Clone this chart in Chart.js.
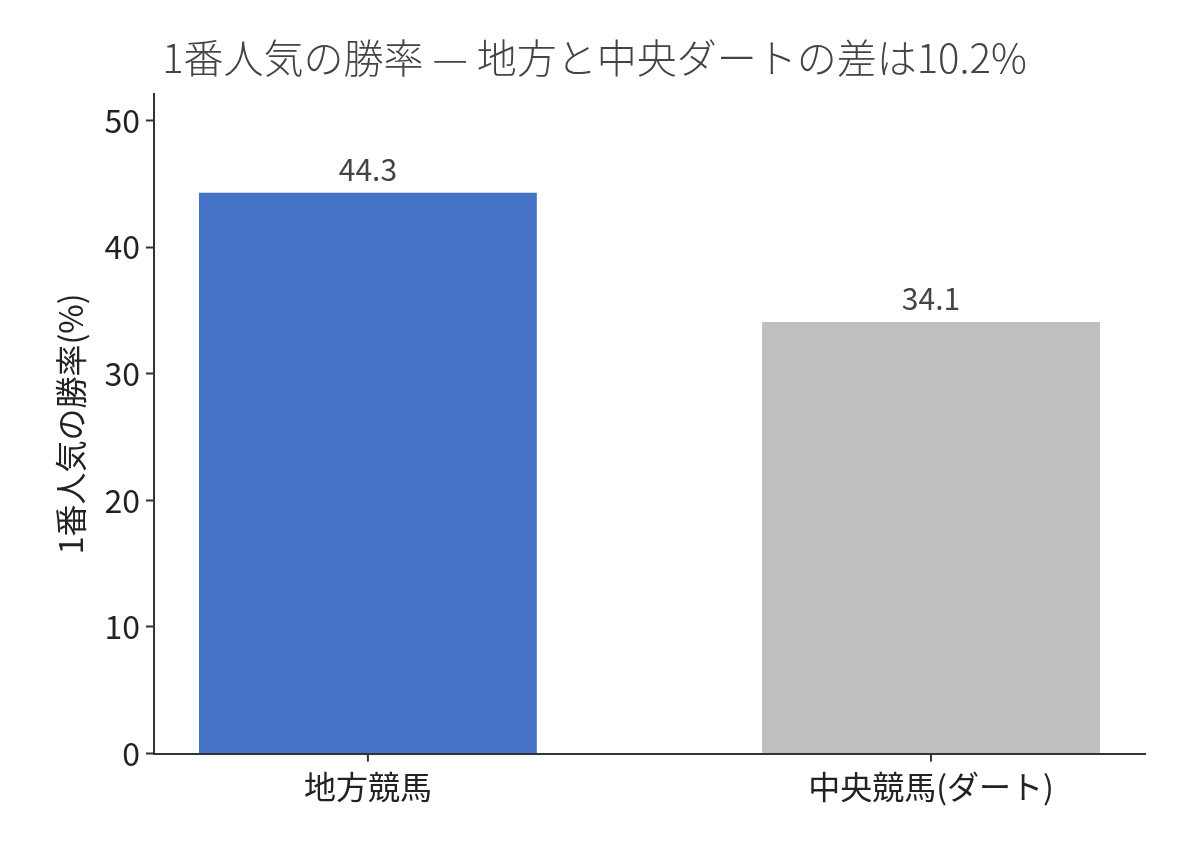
<!DOCTYPE html>
<html><head><meta charset="utf-8">
<script src="https://cdn.jsdelivr.net/npm/chart.js@4"></script>
<style>body{margin:0;background:#fff}#w{width:1188px;height:858px}</style></head>
<body><div id="w"><canvas id="c"></canvas></div>
<script>
const categories = ["地方競馬", "中央競馬(ダート)"];
const values = [44.3, 34.1];
const colors = ["#4472C4", "#BFBFBF"];
const yTicks = [0, 10, 20, 30, 40, 50];
const F = "'Noto Sans CJK JP', sans-serif";
const labelPlugin = {
  id: 'lbl',
  afterDatasetsDraw(ch) {
    const ctx = ch.ctx, meta = ch.getDatasetMeta(0), xs = ch.scales.x, bottom = ch.chartArea.bottom;
    ctx.save(); ctx.font = "30px " + F; ctx.fillStyle = "#444"; ctx.textAlign = "center"; ctx.textBaseline = "bottom";
    meta.data.forEach((b, i) => ctx.fillText(values[i].toFixed(1), b.x, b.y - 8));
    ctx.strokeStyle = "#333"; ctx.lineWidth = 2;
    categories.forEach((c, i) => { const x = xs.getPixelForValue(i); ctx.beginPath(); ctx.moveTo(x, bottom); ctx.lineTo(x, bottom + 8); ctx.stroke(); });
    ctx.restore();
  }
};
new Chart(document.getElementById('c'), {
  type: 'bar',
  data: { datasets: [{ data: values.map((v, i) => ({x: i, y: v})), backgroundColor: colors, barPercentage: 0.6, categoryPercentage: 1 }] },
  options: {
    responsive: true, maintainAspectRatio: false, animation: false,
    layout: { padding: { top: 6, right: 43, bottom: 38, left: 44 } },
    plugins: { legend: { display: false }, tooltip: { enabled: false },
      title: { display: true, text: "1番人気の勝率 — 地方と中央ダートの差は10.2%", color: "#444", font: { family: F, size: 40, weight: 300 }, padding: { top: 28, bottom: 12 } } },
    scales: {
      x: { type: 'linear', min: -0.38, max: 1.38, offset: false,
        afterBuildTicks: s => { s.ticks = categories.map((c, i) => ({ value: i })); },
        ticks: { callback: (v) => categories[v], color: "#222", font: { family: F, size: 32 }, padding: 14, autoSkip: false },
        grid: { drawOnChartArea: false, drawTicks: false },
        border: { color: "#333", width: 2 } },
      y: { min: 0, max: 52.1,
        afterBuildTicks: s => { s.ticks = yTicks.map(v => ({ value: v })); },
        ticks: { color: "#222", font: { family: F, size: 32 }, padding: 6 },
        grid: { drawOnChartArea: false, tickLength: 8, color: "#333", tickWidth: 2 },
        border: { color: "#333", width: 2 },
        title: { display: true, text: "1番人気の勝率(%)", color: "#222", font: { family: F, size: 32 }, padding: 8 } }
    }
  },
  plugins: [labelPlugin]
});
</script></body></html>
